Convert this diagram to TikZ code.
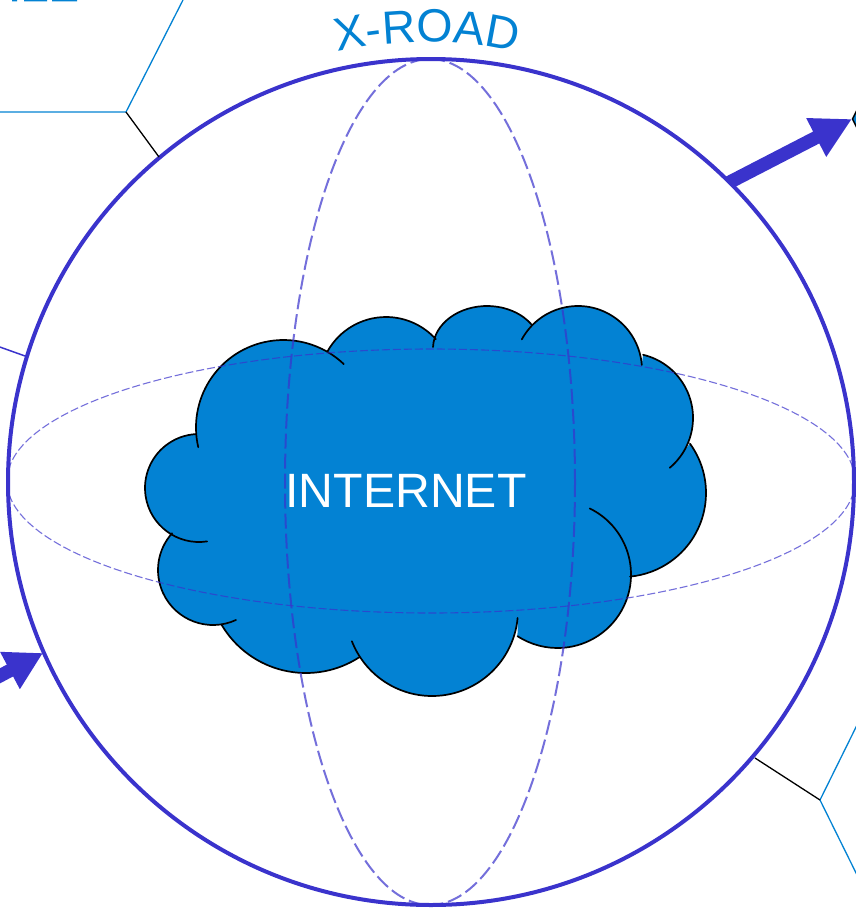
\documentclass[tikz,border=0pt]{standalone}
\usepackage{fontspec}
\setmainfont{Liberation Sans}
\usetikzlibrary{arrows.meta,decorations.text}
\definecolor{sphereblue}{HTML}{3A33CC}
\definecolor{cloudblue}{HTML}{0382D3}
% one lobe of the cloud: centre x, centre y, x radius, y radius, start, end
\newcommand{\lobe}[6]{({#1+#3*cos(#5)},{#2+#4*sin(#5)}) arc[x radius=#3,y radius=#4,start angle=#5,end angle=#6]}
\newcommand{\cloudlobes}[1]{%
 \lobe{199}{488}{54}{54}{81.4}{266.8} #1
 \lobe{283.5}{427.5}{87.5}{87.5}{167}{313.6} #1
 \lobe{386}{384}{67}{67}{209.6}{318} #1
 \lobe{487}{348.5}{54}{42.5}{182}{326.4} #1
 \lobe{578}{370}{64}{64}{208.6}{355.5} #1
 \lobe{628}{418}{65}{65}{283.4}{410} #1
 \lobe{622}{493}{84}{84}{-36}{84.5} #1
 \lobe{557.5}{574.5}{73.5}{73.5}{-64}{123} #1
 \lobe{432}{610}{86}{86}{5.3}{158.7} #1
 \lobe{306}{575}{98}{98}{57.3}{149.2} #1
 \lobe{213}{570}{55}{55}{65.3}{222}}
\tikzset{
  rim/.style={draw=sphereblue,line width=4pt},
  meridian/.style={draw=sphereblue,draw opacity=.7,dash pattern=on 15pt off 5pt,line width=2pt},
  parallel/.style={draw=sphereblue,draw opacity=.7,dash pattern=on 8pt off 3pt,line width=1.1pt},
  bigarrow/.style={draw=sphereblue,fill=sphereblue,line width=13.4pt},
  linkblue/.style={draw=cloudblue,line width=1.3pt},
  linkblack/.style={draw=black,line width=1.3pt},
  stub/.style={draw=sphereblue,line width=1.5pt},
  lobeline/.style={draw=black,line width=1.7pt,line cap=round},
  cloudlabel/.style={text=white,font=\fontsize{48.2}{50}\selectfont,inner sep=0pt}
}
\begin{document}
\begin{tikzpicture}[x=1pt,y=-1pt]
\useasboundingbox (0,0) rectangle (856,913);
\clip (0,0) rectangle (856,913);
% arrows go first: the sphere covers their tails
\coordinate (tipR) at (852,119);
\coordinate (tailR) at (700,197.5);
\coordinate (tipL) at (43,653);
\coordinate (tailL) at (-40,697);
\draw[bigarrow,-{Triangle[length=40.3pt,width=40.6pt]}] (tailR) -- (tipR);
\draw[bigarrow,-{Triangle[length=37.4pt,width=39.4pt]}] (tailL) -- (tipL);
% sphere
\node[circle,fill=white,rim,inner sep=0pt,minimum size=846pt] (sphere) at (431,482) {};
% outer links
\coordinate (hubA) at (126,112);
\coordinate (rimA) at (159,157);
\coordinate (hubAw) at (-5,112);
\coordinate (hubAn) at (183,0);
\coordinate (hubB) at (820,800);
\coordinate (rimB) at (755,758);
\coordinate (hubBn) at (860,719);
\coordinate (hubBs) at (860,881);
\coordinate (stubW) at (-3,346);
\coordinate (stubE) at (25,356);
\draw[linkblue] (hubAw) -- (hubA) -- (hubAn);
\draw[linkblack] (hubA) -- (rimA);
\draw[linkblue] (hubBn) -- (hubB) -- (hubBs);
\draw[linkblack] (hubB) -- (rimB);
\draw[stub] (stubW) -- (stubE);
% device at the arrow tip, cut by the page edge
\draw[fill=cloudblue,draw=black,line width=1.5pt] (852.5,119) -- (857,110) -- (875,110) -- (880,119) -- (875,128) -- (857,128) -- cycle;
% remains of a label cut by the top edge
\fill[cloudblue] (12,-1) rectangle (17,1.4) (24,-1) rectangle (47,1.4) (52,-1) rectangle (77,1.4);
% cloud
\fill[cloudblue] \cloudlobes{--} -- cycle;
\draw[lobeline] \cloudlobes{};
\node[cloudlabel] (internet) at (406,491) {INTERNET};
% dashed great circles
\draw[meridian] (430,482) ellipse [x radius=145,y radius=423];
\draw[parallel] (431,481) ellipse [x radius=424,y radius=132];
% sphere label
\path[decorate,decoration={text along path,text align=center,
   text={|\fontsize{46.5}{50}\selectfont\color{cloudblue}|X-ROAD}}]
  ({427+400*cos(256)},{442+400*sin(256)}) arc[radius=400,start angle=256,end angle=284];
\end{tikzpicture}
\end{document}
